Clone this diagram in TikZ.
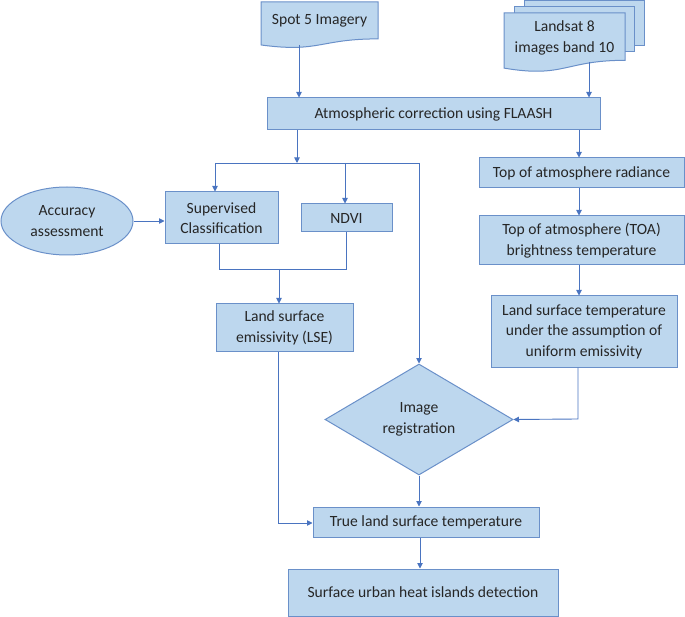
\documentclass[tikz,border=0pt]{standalone}
\usepackage{fontspec}
\setmainfont{Carlito}
\usetikzlibrary{arrows.meta,shapes.geometric}
\definecolor{boxfill}{HTML}{BDD7EE}
\definecolor{boxline}{HTML}{6A90C9}
\definecolor{conn}{HTML}{4A74C0}
\tikzset{
  fnt/.style={font=\fontsize{15.6}{20.5}\selectfont,text=black!85},
  box/.style={fnt,draw=boxline,fill=boxfill,line width=1pt,inner sep=0pt,align=center},
  ell/.style={fnt,ellipse,draw=boxline,fill=boxfill,line width=1pt,inner sep=0pt,align=center},
  dia/.style={fnt,diamond,draw=boxline,fill=boxfill,line width=1pt,inner sep=0pt,shape aspect=1.69,align=center},
  txt/.style={fnt,inner sep=0pt,align=center},
  docfill/.style={draw=boxline,fill=boxfill,line width=1pt},
  conline/.style={draw=conn,line width=0.9pt},
  arr/.style={conline,-{Triangle[length=5.5pt,width=5.5pt]}}
}
\newcommand\docshape[4]{%
  \filldraw[docfill] (#1,#2) -- (#3,#2) -- (#3,{#2+0.802*#4})
    .. controls ({(#1+#3)/2},{#2+0.802*#4}) and ({(#1+#3)/2},{#2+1.107*#4}) ..
    (#1,{#2+0.934*#4}) -- cycle;}
\begin{document}
\begin{tikzpicture}[x=1pt,y=-1pt]
\useasboundingbox (0,0) rectangle (685,617);
% Spot 5 document
\docshape{261}{2}{378}{46}
\node[txt] (spot) at (319.5,21) {Spot 5 Imagery};
% Landsat multidocument
\filldraw[docfill] (524,1) rectangle (644,46);
\filldraw[docfill] (514,7) rectangle (634,52);
\docshape{504}{13}{625}{59}
\node[txt] (land) at (564.5,38) {Landsat 8\\images band 10};
% boxes
\node[box,minimum width=333pt,minimum height=32pt] (atm) at (433.5,114) {Atmospheric correction using FLAASH};
\node[box,minimum width=113pt,minimum height=52pt] (sup) at (221.5,218) {Supervised\\Classification};
\node[box,minimum width=91pt,minimum height=28pt] (ndvi) at (346.5,218) {NDVI};
\node[ell,minimum width=132pt,minimum height=68pt] (acc) at (67,221) {Accuracy\\assessment};
\node[box,minimum width=137pt,minimum height=48pt] (lse) at (284.5,328) {Land surface\\emissivity (LSE)};
\node[box,minimum width=205pt,minimum height=30pt] (toar) at (581.5,173) {Top of atmosphere radiance};
\node[box,minimum width=205pt,minimum height=49pt] (toab) at (581.5,240.5) {Top of atmosphere (TOA)\\brightness temperature};
\node[box,minimum width=186pt,minimum height=71pt] (lstu) at (584,331.5) {Land surface temperature\\under the assumption of\\uniform emissivity};
\node[dia,minimum width=188pt,minimum height=111pt] (reg) at (419,419.5) {Image\\registration};
\node[box,minimum width=226pt,minimum height=30pt] (tlst) at (426,522) {True land surface temperature};
\node[box,minimum width=270pt,minimum height=47pt] (suhi) at (423,592.5) {Surface urban heat islands detection};
% coordinates
\coordinate (spotb) at (299,45);
\coordinate (lsb) at (589,62);
\coordinate (j1) at (297,163);
\coordinate (jL) at (215,163);
\coordinate (jN) at (345,163);
\coordinate (jR) at (419,163);
\coordinate (m1) at (219,269);
\coordinate (m2) at (346,269);
\coordinate (mm) at (279,269);
\coordinate (r1) at (579,0);
\coordinate (r2) at (578,419);
\coordinate (l1) at (278,523);
\coordinate (c2) at (420,0);
% connectors
\draw[arr] (spotb) -- (spotb |- atm.north);
\draw[arr] (lsb) -- (lsb |- atm.north);
\draw[arr] (atm.south -| j1) -- (j1);
\draw[conline] (jL) -- (jR);
\draw[arr] (jL) -- (jL |- sup.north);
\draw[arr] (jN) -- (jN |- ndvi.north);
\draw[arr] (jR) -- (reg.north);
\draw[arr] (acc.east) -- (sup.west |- acc.east);
\draw[conline] (sup.south -| m1) -- (m1) -- (m2) -- (ndvi.south -| m2);
\draw[arr] (mm) -- (mm |- lse.north);
\draw[arr] (atm.south -| r1) -- (toar.north -| r1);
\draw[arr] (toar.south -| r1) -- (toab.north -| r1);
\draw[arr] (toab.south -| r1) -- (lstu.north -| r1);
\draw[arr] (lstu.south -| r2) -- (r2) -- (reg.east);
\draw[arr] (reg.south) -- (tlst.north -| reg.south);
\draw[arr] (lse.south -| l1) -- (l1) -- (tlst.west |- l1);
\draw[arr] (tlst.south -| c2) -- (suhi.north -| c2);
\end{tikzpicture}
\end{document}
